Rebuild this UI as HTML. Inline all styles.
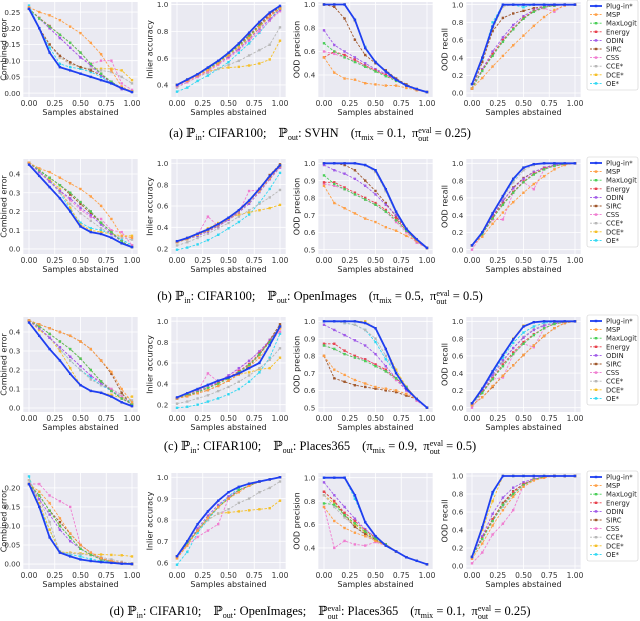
<!DOCTYPE html>
<html><head><meta charset="utf-8"><style>
body{margin:0;background:#fff;width:640px;height:617px;overflow:hidden;position:relative;font-family:"DejaVu Sans","Liberation Sans",sans-serif}
svg{position:absolute;left:0;top:0}
.cap{position:absolute;left:0;width:640px;text-align:center;font-family:"Liberation Serif","DejaVu Serif",serif;font-size:12.5px;white-space:nowrap;line-height:14px}
.cap sub{font-size:8px;vertical-align:-3px;line-height:0}
.st{display:inline-flex;flex-direction:column;vertical-align:4px;font-size:8px;line-height:8px;text-align:left}
.sp{display:inline-block;width:12px}
</style></head><body>
<svg id="fig" width="640" height="617"></svg>
<div class="cap" style="top:126px">(a) ℙ<sub>in</sub>: CIFAR100;<span class="sp"></span>ℙ<sub>out</sub>: SVHN<span class="sp"></span>(π<sub>mix</sub> = 0.1,&nbsp; π<span class="st"><span>eval</span><span>out</span></span> = 0.25)</div>
<div class="cap" style="top:289px">(b) ℙ<sub>in</sub>: CIFAR100;<span class="sp"></span>ℙ<sub>out</sub>: OpenImages<span class="sp"></span>(π<sub>mix</sub> = 0.5,&nbsp; π<span class="st"><span>eval</span><span>out</span></span> = 0.5)</div>
<div class="cap" style="top:439px">(c) ℙ<sub>in</sub>: CIFAR100;<span class="sp"></span>ℙ<sub>out</sub>: Places365<span class="sp"></span>(π<sub>mix</sub> = 0.9,&nbsp; π<span class="st"><span>eval</span><span>out</span></span> = 0.5)</div>
<div class="cap" style="top:604px">(d) ℙ<sub>in</sub>: CIFAR10;<span class="sp"></span>ℙ<sub>out</sub>: OpenImages;<span class="sp"></span>ℙ<span class="st"><span>eval</span><span>out</span></span>: Places365<span class="sp"></span>(π<sub>mix</sub> = 0.1,&nbsp; π<span class="st"><span>eval</span><span>out</span></span> = 0.25)</div>
<script>
const xs=[0,0.1,0.2,0.3,0.4,0.5,0.6,0.7,0.8,0.9,1.0];
const seriesNames=["Plug-in*","MSP","MaxLogit","Energy","ODIN","SIRC","CSS","CCE*","DCE*","OE*"];
const xTicks=[0,0.25,0.5,0.75,1.0];
const xTickLabels=["0.00","0.25","0.50","0.75","1.00"];
const yTitles=["Combined error","Inlier accuracy","OOD precision","OOD recall"];
const yTicksErr1=[0,0.05,0.1,0.15,0.2,0.25];
const yTicksErr2=[0,0.1,0.2,0.3,0.4];
const yTicksErr4=[0,0.05,0.1,0.15,0.2];
const yTicksAcc1=[0.4,0.6,0.8,1.0];
const yTicksAcc2=[0.2,0.4,0.6,0.8,1.0];
const yTicksAcc4=[0.6,0.7,0.8,0.9,1.0];
const yTicksPrec1=[0.4,0.6,0.8,1.0];
const yTicksPrec2=[0.5,0.6,0.7,0.8,0.9,1.0];
const yTicksRec=[0,0.2,0.4,0.6,0.8,1.0];

const r1Error=[[0.26,0.20,0.125,0.08,0.07,0.06,0.05,0.04,0.03,0.015,0.003],[0.265,0.25,0.24,0.225,0.205,0.185,0.155,0.12,0.07,0.02,0.005],[0.26,0.23,0.205,0.18,0.155,0.125,0.09,0.06,0.035,0.015,0.005],[0.26,0.232,0.207,0.18,0.155,0.125,0.09,0.06,0.035,0.015,0.005],[0.26,0.23,0.2,0.17,0.14,0.11,0.085,0.055,0.03,0.012,0.005],[0.26,0.2,0.15,0.115,0.095,0.08,0.07,0.055,0.035,0.015,0.005],[0.26,0.23,0.2,0.17,0.14,0.11,0.09,0.1,0.1,0.03,0.01],[0.26,0.2,0.15,0.11,0.09,0.08,0.075,0.07,0.065,0.05,0.03],[0.26,0.2,0.15,0.11,0.09,0.08,0.075,0.075,0.075,0.07,0.04],[0.27,0.2,0.14,0.09,0.08,0.075,0.065,0.05,0.03,0.015,0.005]];
const r1Acc=[[0.40,0.44,0.48,0.53,0.58,0.64,0.71,0.79,0.87,0.94,0.99],[0.40,0.43,0.47,0.51,0.56,0.62,0.68,0.75,0.83,0.91,0.97],[0.40,0.44,0.48,0.52,0.57,0.63,0.69,0.76,0.84,0.91,0.97],[0.40,0.44,0.48,0.52,0.57,0.63,0.69,0.76,0.84,0.92,0.97],[0.40,0.43,0.47,0.51,0.56,0.61,0.67,0.74,0.82,0.89,0.96],[0.40,0.44,0.48,0.52,0.57,0.63,0.70,0.77,0.85,0.93,0.98],[0.39,0.42,0.46,0.50,0.55,0.60,0.66,0.73,0.80,0.88,0.95],[0.38,0.42,0.46,0.49,0.52,0.55,0.58,0.62,0.66,0.70,0.83],[0.40,0.43,0.47,0.50,0.52,0.53,0.535,0.545,0.56,0.59,0.73],[0.35,0.38,0.43,0.47,0.52,0.57,0.64,0.71,0.79,0.88,0.98]];
const r1Prec=[[1,1,1,0.87,0.63,0.51,0.43,0.36,0.31,0.28,0.255],[0.55,0.42,0.37,0.36,0.33,0.32,0.31,0.31,0.29,0.27,0.255],[0.67,0.6,0.55,0.51,0.47,0.43,0.39,0.35,0.31,0.28,0.255],[0.55,0.6,0.57,0.53,0.48,0.44,0.4,0.36,0.31,0.28,0.255],[0.78,0.655,0.6,0.55,0.5,0.45,0.41,0.36,0.31,0.28,0.255],[1,0.98,0.88,0.7,0.57,0.5,0.44,0.37,0.32,0.28,0.255],[0.6,0.58,0.55,0.52,0.48,0.44,0.4,0.36,0.31,0.28,0.255],[1,1,1,0.86,0.63,0.51,0.43,0.36,0.31,0.28,0.255],[1,1,1,0.86,0.63,0.51,0.43,0.36,0.31,0.28,0.255],[1,1,1,0.87,0.64,0.51,0.43,0.36,0.31,0.28,0.255]];
const r1Rec=[[0.1,0.4,0.75,1,1,1,1,1,1,1,1],[0.05,0.17,0.3,0.42,0.54,0.65,0.76,0.86,0.94,0.99,1],[0.05,0.25,0.42,0.58,0.72,0.84,0.92,0.97,0.99,1,1],[0.05,0.26,0.44,0.6,0.73,0.85,0.93,0.97,0.99,1,1],[0.05,0.27,0.47,0.63,0.77,0.87,0.94,0.98,1,1,1],[0.05,0.35,0.7,0.85,0.9,0.93,0.96,0.98,0.99,1,1],[0.05,0.25,0.43,0.6,0.73,0.85,0.92,0.96,0.92,1,1],[0.1,0.4,0.72,0.98,1,1,1,1,1,1,1],[0.1,0.4,0.72,0.98,1,1,1,1,1,1,1],[0.1,0.38,0.8,1,1,0.97,1,1,1,1,1]];

const r2Error=[[0.45,0.39,0.33,0.27,0.2,0.12,0.09,0.08,0.06,0.03,0.01],[0.46,0.43,0.41,0.38,0.35,0.32,0.28,0.23,0.16,0.07,0.06],[0.46,0.42,0.38,0.34,0.3,0.25,0.2,0.14,0.09,0.04,0.01],[0.46,0.42,0.38,0.34,0.3,0.25,0.2,0.14,0.09,0.04,0.01],[0.46,0.41,0.36,0.31,0.27,0.22,0.18,0.13,0.08,0.04,0.01],[0.46,0.42,0.38,0.34,0.29,0.24,0.19,0.14,0.09,0.04,0.01],[0.46,0.41,0.36,0.31,0.26,0.21,0.17,0.16,0.1,0.09,0.02],[0.46,0.41,0.36,0.3,0.24,0.19,0.15,0.11,0.08,0.06,0.05],[0.46,0.41,0.37,0.32,0.22,0.13,0.1,0.09,0.08,0.07,0.07],[0.46,0.42,0.37,0.3,0.21,0.14,0.11,0.1,0.08,0.05,0.02]];
const r2Acc=[[0.27,0.3,0.34,0.38,0.43,0.49,0.56,0.65,0.76,0.88,0.98],[0.26,0.29,0.33,0.37,0.42,0.48,0.55,0.64,0.74,0.86,0.97],[0.26,0.29,0.33,0.37,0.42,0.48,0.55,0.64,0.75,0.87,0.98],[0.26,0.29,0.33,0.37,0.42,0.48,0.55,0.64,0.75,0.87,0.98],[0.26,0.29,0.32,0.36,0.41,0.47,0.54,0.62,0.73,0.85,0.96],[0.27,0.3,0.33,0.37,0.42,0.48,0.55,0.64,0.76,0.89,0.99],[0.26,0.29,0.33,0.5,0.41,0.47,0.54,0.74,0.75,0.86,0.96],[0.23,0.26,0.3,0.34,0.39,0.44,0.5,0.56,0.62,0.68,0.75],[0.26,0.3,0.34,0.39,0.44,0.48,0.52,0.54,0.56,0.58,0.61],[0.19,0.21,0.24,0.28,0.33,0.39,0.45,0.52,0.63,0.76,0.91]];
const r2Prec=[[1,1,1,1,0.99,0.96,0.85,0.72,0.62,0.56,0.51],[0.87,0.77,0.74,0.71,0.68,0.66,0.63,0.61,0.58,0.55,0.51],[0.93,0.88,0.85,0.82,0.79,0.76,0.72,0.67,0.61,0.55,0.51],[0.89,0.89,0.86,0.83,0.8,0.77,0.73,0.68,0.61,0.55,0.51],[0.99,0.96,0.94,0.91,0.87,0.82,0.76,0.7,0.62,0.55,0.51],[1,1,0.99,0.96,0.9,0.84,0.77,0.69,0.62,0.55,0.51],[0.88,0.87,0.85,0.82,0.79,0.76,0.72,0.66,0.6,0.54,0.51],[1,1,1,1,0.99,0.95,0.84,0.71,0.62,0.56,0.51],[1,1,1,1,0.99,0.95,0.84,0.71,0.62,0.56,0.51],[1,1,1,1,0.99,0.96,0.84,0.71,0.62,0.56,0.51]];
const r2Rec=[[0.05,0.2,0.42,0.62,0.82,0.95,0.99,1,1,1,1],[0.05,0.15,0.3,0.43,0.55,0.66,0.76,0.85,0.93,0.98,1],[0.05,0.18,0.36,0.52,0.66,0.78,0.87,0.93,0.97,0.99,1],[0.05,0.18,0.37,0.53,0.67,0.79,0.88,0.94,0.97,0.99,1],[0.05,0.19,0.39,0.57,0.71,0.82,0.9,0.95,0.98,0.99,1],[0.05,0.19,0.38,0.56,0.72,0.83,0.9,0.95,0.98,0.99,1],[0,0.18,0.35,0.35,0.66,0.78,0.7,0.93,0.97,0.99,1],[0.05,0.2,0.4,0.6,0.78,0.92,0.98,1,1,1,1],[0.05,0.2,0.42,0.62,0.82,0.95,0.99,1,1,1,1],[0.05,0.2,0.42,0.62,0.8,0.95,0.99,1,1,1,1]];

const r3Error=[[0.45,0.38,0.31,0.25,0.18,0.12,0.09,0.08,0.06,0.03,0.01],[0.46,0.44,0.42,0.4,0.38,0.35,0.31,0.25,0.19,0.1,0.03],[0.46,0.43,0.39,0.35,0.31,0.26,0.2,0.14,0.09,0.05,0.02],[0.46,0.43,0.39,0.35,0.31,0.26,0.2,0.14,0.09,0.05,0.02],[0.46,0.42,0.37,0.32,0.27,0.22,0.17,0.13,0.09,0.05,0.02],[0.46,0.44,0.42,0.4,0.38,0.35,0.31,0.25,0.18,0.08,0.01],[0.46,0.42,0.37,0.32,0.27,0.22,0.17,0.14,0.1,0.06,0.02],[0.46,0.42,0.37,0.31,0.25,0.2,0.15,0.12,0.1,0.07,0.04],[0.46,0.41,0.37,0.3,0.21,0.12,0.09,0.08,0.07,0.05,0.06],[0.46,0.42,0.37,0.31,0.25,0.2,0.16,0.12,0.09,0.06,0.03]];
const r3Acc=[[0.27,0.31,0.35,0.39,0.43,0.46,0.5,0.55,0.6,0.77,0.95],[0.26,0.28,0.31,0.34,0.38,0.43,0.49,0.56,0.65,0.77,0.93],[0.26,0.29,0.32,0.36,0.4,0.45,0.51,0.58,0.68,0.8,0.95],[0.26,0.29,0.32,0.36,0.41,0.46,0.52,0.59,0.69,0.81,0.95],[0.26,0.29,0.33,0.37,0.42,0.48,0.55,0.62,0.71,0.82,0.94],[0.26,0.28,0.31,0.34,0.38,0.43,0.49,0.57,0.68,0.82,0.97],[0.26,0.29,0.33,0.5,0.42,0.48,0.54,0.62,0.71,0.8,0.9],[0.21,0.23,0.26,0.29,0.33,0.37,0.42,0.48,0.55,0.63,0.74],[0.26,0.3,0.34,0.38,0.43,0.46,0.49,0.51,0.54,0.55,0.65],[0.17,0.18,0.2,0.23,0.26,0.3,0.35,0.42,0.51,0.65,0.88]];
const r3Prec=[[1,1,1,1,0.99,0.96,0.84,0.7,0.61,0.55,0.5],[0.8,0.72,0.69,0.66,0.64,0.62,0.61,0.6,0.58,0.55,0.5],[0.86,0.84,0.81,0.79,0.77,0.74,0.71,0.67,0.62,0.55,0.5],[0.87,0.87,0.83,0.8,0.78,0.75,0.72,0.67,0.62,0.55,0.5],[0.98,0.95,0.92,0.89,0.86,0.81,0.74,0.67,0.6,0.55,0.5],[0.8,0.67,0.65,0.63,0.62,0.61,0.6,0.59,0.57,0.55,0.5],[0.86,0.84,0.81,0.79,0.78,0.75,0.71,0.66,0.6,0.54,0.5],[1,1,0.99,0.98,0.95,0.9,0.8,0.7,0.61,0.55,0.5],[1,1,1,1,1,0.96,0.84,0.72,0.62,0.55,0.5],[1,1,0.99,0.98,0.95,0.88,0.78,0.7,0.61,0.55,0.5]];
const r3Rec=[[0.05,0.22,0.42,0.61,0.79,0.94,0.99,1,1,1,1],[0.03,0.12,0.25,0.37,0.49,0.61,0.72,0.83,0.92,0.98,1],[0.05,0.17,0.33,0.48,0.62,0.74,0.84,0.92,0.97,0.99,1],[0.05,0.18,0.34,0.5,0.64,0.76,0.85,0.92,0.97,0.99,1],[0.05,0.2,0.38,0.55,0.69,0.81,0.9,0.95,0.98,0.99,1],[0.03,0.12,0.24,0.37,0.49,0.61,0.72,0.83,0.92,0.98,1],[0,0.17,0.33,0.35,0.62,0.74,0.7,0.92,0.97,0.99,1],[0.05,0.18,0.36,0.53,0.69,0.82,0.91,0.96,0.98,0.99,1],[0.05,0.22,0.42,0.61,0.8,0.95,0.99,1,1,1,1],[0.05,0.2,0.4,0.58,0.75,0.87,0.94,0.98,0.99,1,1]];

const r4Error=[[0.21,0.15,0.07,0.03,0.02,0.012,0.008,0.005,0.003,0.001,0],[0.21,0.19,0.16,0.12,0.08,0.05,0.03,0.015,0.008,0.003,0],[0.21,0.18,0.14,0.1,0.07,0.04,0.025,0.012,0.006,0.002,0],[0.21,0.18,0.14,0.1,0.07,0.04,0.025,0.012,0.006,0.002,0],[0.21,0.17,0.13,0.09,0.06,0.04,0.025,0.012,0.006,0.002,0],[0.21,0.18,0.14,0.11,0.08,0.05,0.03,0.015,0.007,0.003,0],[0.21,0.21,0.18,0.165,0.15,0.05,0.03,0.015,0.007,0.003,0],[0.22,0.17,0.11,0.03,0.028,0.026,0.023,0.018,0.012,0.006,0.002],[0.22,0.16,0.09,0.032,0.03,0.028,0.026,0.025,0.024,0.023,0.02],[0.23,0.15,0.09,0.033,0.025,0.02,0.013,0.008,0.004,0.002,0.001]];
const r4Acc=[[0.63,0.7,0.78,0.84,0.89,0.93,0.955,0.97,0.98,0.99,1],[0.62,0.68,0.75,0.81,0.86,0.9,0.93,0.96,0.98,0.99,1],[0.63,0.69,0.75,0.81,0.86,0.9,0.94,0.96,0.98,0.99,1],[0.63,0.69,0.75,0.81,0.86,0.9,0.94,0.96,0.98,0.99,1],[0.63,0.69,0.76,0.82,0.87,0.91,0.94,0.96,0.98,0.99,1],[0.63,0.69,0.75,0.81,0.86,0.9,0.94,0.96,0.98,0.99,1],[0.63,0.68,0.72,0.75,0.78,0.9,0.94,0.96,0.98,0.99,1],[0.62,0.68,0.75,0.8,0.83,0.85,0.88,0.9,0.93,0.95,0.98],[0.62,0.69,0.75,0.8,0.83,0.835,0.84,0.845,0.85,0.855,0.89],[0.59,0.65,0.74,0.8,0.86,0.91,0.95,0.97,0.98,0.99,1]];
const r4Prec=[[1,1,1,0.85,0.62,0.5,0.42,0.37,0.32,0.29,0.26],[0.75,0.63,0.57,0.53,0.5,0.46,0.42,0.37,0.32,0.29,0.26],[0.78,0.77,0.68,0.61,0.54,0.48,0.43,0.37,0.32,0.29,0.26],[0.88,0.8,0.7,0.63,0.55,0.49,0.43,0.37,0.32,0.29,0.26],[0.96,0.85,0.75,0.65,0.56,0.49,0.43,0.37,0.32,0.29,0.26],[0.88,0.8,0.68,0.58,0.52,0.47,0.42,0.37,0.32,0.29,0.26],[0.75,0.4,0.46,0.43,0.42,0.45,0.42,0.37,0.32,0.29,0.26],[0.85,0.75,0.66,0.58,0.51,0.46,0.42,0.37,0.32,0.29,0.26],[0.85,0.78,0.68,0.6,0.53,0.47,0.42,0.37,0.32,0.29,0.26],[1,1,1,0.82,0.62,0.5,0.42,0.37,0.32,0.29,0.26]];
const r4Rec=[[0.1,0.43,0.82,1,1,1,1,1,1,1,1],[0.08,0.25,0.45,0.62,0.77,0.88,0.95,0.98,1,1,1],[0.1,0.3,0.5,0.68,0.8,0.9,0.96,0.99,1,1,1],[0.1,0.31,0.52,0.69,0.82,0.91,0.96,0.99,1,1,1],[0.1,0.33,0.58,0.76,0.87,0.93,0.97,0.99,1,1,1],[0.1,0.32,0.52,0.7,0.83,0.91,0.96,0.99,1,1,1],[0.03,0.15,0.35,0.47,0.62,0.9,0.96,0.99,1,1,1],[0.1,0.3,0.5,0.66,0.79,0.9,0.96,0.99,1,1,1],[0.1,0.4,0.72,1,1,1,1,1,1,1,1],[0.1,0.42,0.8,1,1,1,1,1,1,1,1]];

const colors=["#1f3ff0","#ff9f45","#4ccf5a","#e8434f","#a05ae8","#a0582d","#f07cd0","#b8b8b8","#f5c02a","#2fd8f2"];
const svg=document.getElementById('fig');
const NS="http://www.w3.org/2000/svg";
function mk(tag,attrs,parent){const e=document.createElementNS(NS,tag);for(const k in attrs)e.setAttribute(k,attrs[k]);(parent||svg).appendChild(e);return e;}

const rows=[
 {top:2,bot:97,panels:[[r1Error,-0.012,0.281,yTicksErr1,2],[r1Acc,0.31,1.019,yTicksAcc1,1],[r1Prec,0.213,1.021,yTicksPrec1,1],[r1Rec,-0.045,1.03,yTicksRec,1]]},
 {top:159,bot:254,panels:[[r2Error,-0.027,0.48,yTicksErr2,1],[r2Acc,0.15,1.04,yTicksAcc2,1],[r2Prec,0.475,1.025,yTicksPrec2,1],[r2Rec,-0.05,1.05,yTicksRec,1]]},
 {top:317,bot:412,panels:[[r3Error,-0.021,0.479,yTicksErr2,1],[r3Acc,0.13,1.04,yTicksAcc2,1],[r3Prec,0.475,1.025,yTicksPrec2,1],[r3Rec,-0.05,1.05,yTicksRec,1]]},
 {top:473,bot:569,panels:[[r4Error,-0.013,0.239,yTicksErr4,2],[r4Acc,0.57,1.02,yTicksAcc4,1],[r4Prec,0.22,1.04,yTicksPrec1,1],[r4Rec,-0.033,1.033,yTicksRec,1]]}
];
const x0s=[29,177,324,472];
const unit=103;

rows.forEach((row,ri)=>{
 row.panels.forEach((p,pi)=>{
  const [data,ymin,ymax,ticks,dec]=p;
  const g=mk('g',{});
  
  
  const X=v=>x0s[pi]+v*unit;
  const Y=v=>row.bot-(v-ymin)/(ymax-ymin)*(row.bot-row.top);
  const L=X(-0.055),R=X(1.055);
  const bg=mk('rect',{x:L,y:row.top,width:R-L,height:row.bot-row.top,fill:'#eaeaf2'},g);
  
  
  xTicks.forEach((t,i)=>{
   mk('line',{x1:X(t),x2:X(t),y1:row.top,y2:row.bot,stroke:'#fff','stroke-width':0.8},g);
   const tl=mk('text',{x:X(t),y:row.bot+9,'font-size':7.5,'text-anchor':'middle',fill:'#333'},g);
   tl.textContent=xTickLabels[i];
   
   
  });
  ticks.forEach(t=>{
   mk('line',{x1:L,x2:R,y1:Y(t),y2:Y(t),stroke:'#fff','stroke-width':0.8},g);
   const tl=mk('text',{x:L-3,y:Y(t)+2.7,'font-size':7.2,'text-anchor':'end',fill:'#333'},g);
   tl.textContent=t.toFixed(dec);
   
   
  });
  const xl=mk('text',{x:(L+R)/2,y:row.bot+18,'font-size':8,'text-anchor':'middle',fill:'#222'},g);
  xl.textContent='Samples abstained';
  
  
  const yx=pi===0?6.5:L-19, ym=(row.top+row.bot)/2;
  const yl=mk('text',{x:yx,y:ym,'font-size':8,'text-anchor':'middle',fill:'#222',transform:`rotate(-90 ${yx} ${ym})`},g);
  yl.textContent=yTitles[pi];
  
  
  for(let s=data.length-1;s>=0;s--){
   const vals=data[s];
   const pts=vals.map((v,i)=>X(xs[i]).toFixed(1)+','+Y(v).toFixed(1)).join(' ');
   const line=mk('polyline',{points:pts,fill:'none',stroke:colors[s],'stroke-width':s===0?1.8:0.9,'stroke-dasharray':s===0?'none':'2.5,1.5'},g);
   
   
   vals.forEach((v,i)=>{
    const m=mk('rect',{x:X(xs[i])-1.2,y:Y(v)-1.2,width:2.4,height:2.4,fill:colors[s]},g);
    
    
   });
  }
 });
 const lg=mk('g',{});
 
 
 const lt=row.top-2;
 mk('rect',{x:587,y:lt,width:51,height:90,fill:'#fff',stroke:'#ccc','stroke-width':0.6,rx:2},lg);
 seriesNames.forEach((n,i)=>{
  const yy=lt+6+i*8.6;
  const e=mk('g',{},lg);
  
  
  mk('line',{x1:590,x2:602,y1:yy,y2:yy,stroke:colors[i],'stroke-width':i===0?1.8:0.9,'stroke-dasharray':i===0?'none':'2,1.2'},e);
  mk('rect',{x:594.8,y:yy-1.2,width:2.4,height:2.4,fill:colors[i]},e);
  const t=mk('text',{x:606,y:yy+2.5,'font-size':6.8,fill:'#222'},e);
  t.textContent=n;
 });
});
</script>
</body></html>
